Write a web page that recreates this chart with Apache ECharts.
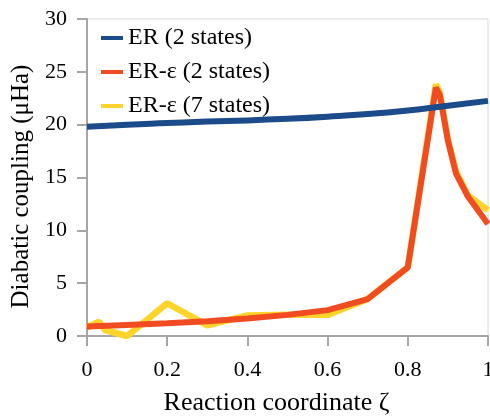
<!DOCTYPE html>
<html>
<head>
<meta charset="utf-8">
<script src="https://cdn.jsdelivr.net/npm/echarts@6/dist/echarts.min.js"></script>
<style>
  html, body { margin: 0; padding: 0; background: #fff; }
</style>
</head>
<body>
<div id="main" style="width: 490px;height:416px;"></div>
<script>
// 数据: [反应坐标, 耦合]
var erX = [0, 0.1, 0.2, 0.3, 0.4, 0.5, 0.6, 0.7, 0.8, 0.9, 1.0];
var erY = [19.8, 20.0, 20.15, 20.3, 20.4, 20.55, 20.75, 21.0, 21.35, 21.8, 22.25];

var er2X = [0, 0.1, 0.2, 0.3, 0.4, 0.5, 0.6, 0.7, 0.8, 0.87, 0.88, 0.9, 0.92, 0.95, 1.0];
var er2Y = [0.9, 1.05, 1.2, 1.4, 1.65, 2.0, 2.45, 3.5, 6.5, 23.5, 22.8, 18.5, 15.4, 13.2, 10.6];

var er7X = [0, 0.03, 0.045, 0.1, 0.2, 0.3, 0.4, 0.5, 0.6, 0.7, 0.8, 0.87, 0.88, 0.9, 0.92, 0.95, 1.0];
var er7Y = [0.8, 1.35, 0.55, 0.0, 3.1, 1.0, 1.95, 2.0, 2.0, 3.5, 6.5, 23.8, 23.0, 18.6, 15.6, 13.3, 11.9];

var names = ['ER (2 states)', 'ER-\u03b5 (2 states)', 'ER-\u03b5 (7 states)'];

function pairs(xs, ys) {
  var out = [];
  for (var i = 0; i < xs.length; i++) {
    out.push([xs[i], ys[i]]);
  }
  return out;
}

var font = 'Liberation Serif';

var option = {
  animation: false,
  textStyle: { fontFamily: font },
  grid: {
    left: 87,
    right: 2,
    top: 19,
    bottom: 80,
    outerBoundsMode: 'none',
    show: true,
    borderColor: '#d9d9d9',
    borderWidth: 1
  },
  legend: {
    orient: 'vertical',
    left: 96,
    top: 21,
    itemWidth: 22,
    itemHeight: 4,
    itemGap: 10,
    icon: 'rect',
    data: names,
    textStyle: { fontFamily: font, fontSize: 24, color: '#000' }
  },
  xAxis: {
    type: 'value',
    min: 0,
    max: 1,
    interval: 0.2,
    name: 'Reaction coordinate \u03b6',
    nameLocation: 'middle',
    nameGap: 54,
    nameTextStyle: { fontFamily: font, fontSize: 26, color: '#000', padding: [0, 22, 0, 0] },
    axisLine: { lineStyle: { color: '#a6a6a6', width: 2 } },
    axisTick: { show: true, length: 10, lineStyle: { color: '#a6a6a6', width: 2 } },
    axisLabel: { fontFamily: font, fontSize: 22, color: '#000', margin: 23 },
    splitLine: { show: false }
  },
  yAxis: {
    type: 'value',
    min: 0,
    max: 30,
    interval: 5,
    name: 'Diabatic coupling (\u03bcHa)',
    nameLocation: 'middle',
    nameGap: 52,
    nameTextStyle: { fontFamily: font, fontSize: 25, color: '#000', padding: [0, 18, 0, 0] },
    axisLine: { show: true, lineStyle: { color: '#a6a6a6', width: 2 } },
    axisTick: { show: true, length: 10, lineStyle: { color: '#a6a6a6', width: 2 } },
    axisLabel: { fontFamily: font, fontSize: 22, color: '#000', margin: 20 },
    splitLine: { show: false }
  },
  series: [
    {
      name: names[0],
      type: 'line',
      z: 4,
      showSymbol: false,
      smooth: true,
      color: '#1b4b8b',
      lineStyle: { width: 6 },
      data: pairs(erX, erY)
    },
    {
      name: names[1],
      type: 'line',
      z: 3,
      showSymbol: false,
      color: '#f14b22',
      lineStyle: { width: 6 },
      data: pairs(er2X, er2Y)
    },
    {
      name: names[2],
      type: 'line',
      z: 2,
      showSymbol: false,
      color: '#ffd42a',
      lineStyle: { width: 6.5 },
      data: pairs(er7X, er7Y)
    }
  ]
};

var myChart = echarts.init(document.getElementById('main'));
myChart.setOption(option);
</script>
</body>
</html>
